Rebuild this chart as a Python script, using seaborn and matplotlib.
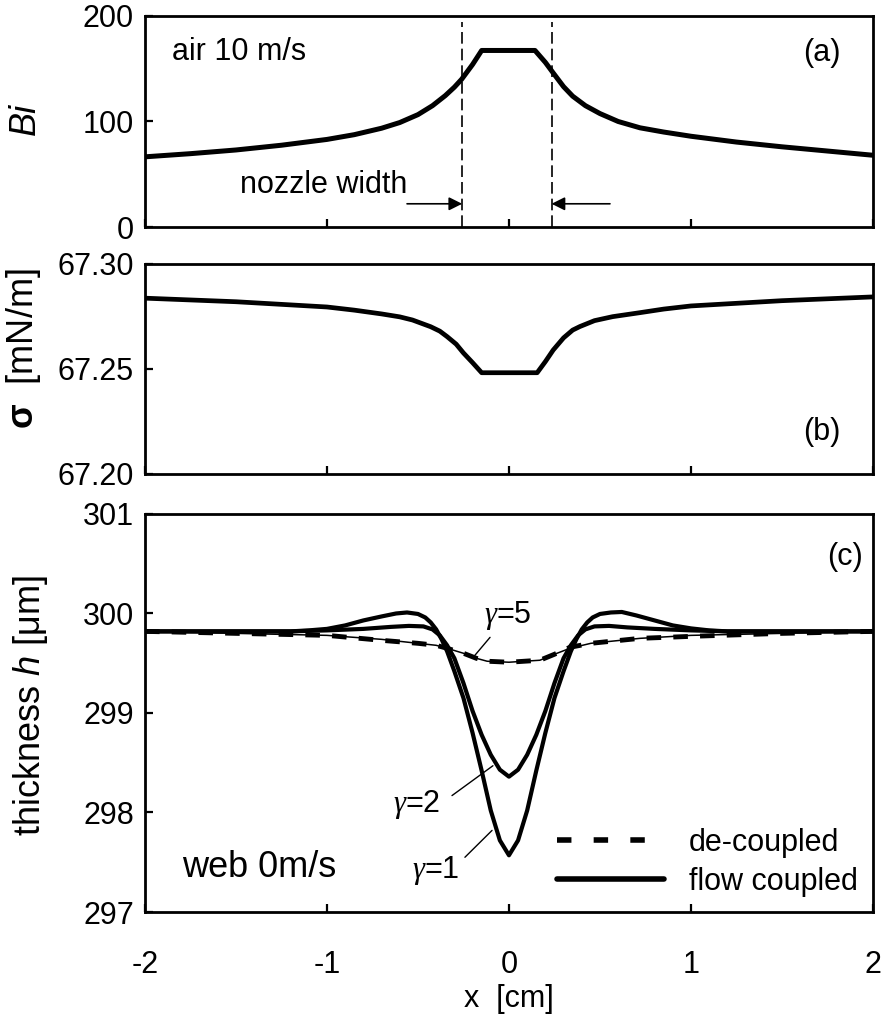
import numpy as np
import pandas as pd
import matplotlib
matplotlib.use('Agg')
import matplotlib.pyplot as plt
import seaborn as sns
from matplotlib.lines import Line2D
from matplotlib.ticker import FormatStrFormatter

# --- data ---
# (a) Biot number along x
bi_x = [-2.0, -1.75, -1.5, -1.25, -1.0, -0.85, -0.7, -0.6, -0.5, -0.42, -0.35, -0.3, -0.26, -0.2, -0.15,
        0.143, 0.2, 0.243, 0.3, 0.35, 0.42, 0.5, 0.6, 0.72, 0.85, 1.0, 1.25, 1.5, 1.75, 2.0]
bi_y = [66.5, 69.5, 73, 77.5, 83, 87.5, 93.6, 99, 106.5, 115, 124.5, 132.5, 140, 154, 167.3,
        167.3, 156, 146, 133, 124, 115, 107.5, 100, 94, 90, 86, 80.5, 76, 72, 68]
nozzle_edges = [-0.257, 0.234]

# (b) surface tension
sig_x = [-2.0, -1.5, -1.0, -0.85, -0.7, -0.6, -0.53, -0.43, -0.38, -0.34, -0.29, -0.25, -0.2, -0.15,
         0.155, 0.2, 0.243, 0.3, 0.35, 0.39, 0.47, 0.57, 0.72, 0.85, 1.0, 1.5, 2.0]
sig_y = [67.2837, 67.2820, 67.2795, 67.2780, 67.2762, 67.2748, 67.2733, 67.2701, 67.2680, 67.2654,
         67.2618, 67.2576, 67.2530, 67.2482,
         67.2482, 67.2535, 67.2590, 67.2648, 67.2685, 67.2702, 67.2730, 67.2749, 67.2768, 67.2785,
         67.2800, 67.2825, 67.2843]

# (c) film thickness
dec_x = [-2.0, -1.5, -1.0, -0.7, -0.5, -0.4, -0.34, -0.25, -0.18, -0.12, 0.0,
         0.17, 0.25, 0.335, 0.45, 0.72, 1.0, 1.5, 2.0]
dec_h = [299.82, 299.80, 299.78, 299.73, 299.70, 299.68, 299.65, 299.60, 299.55, 299.52, 299.51,
         299.53, 299.59, 299.66, 299.70, 299.75, 299.77, 299.80, 299.82]
g5_h = [299.82, 299.80, 299.78, 299.74, 299.70, 299.68, 299.65, 299.60, 299.55, 299.52, 299.51,
        299.53, 299.59, 299.65, 299.70, 299.75, 299.78, 299.80, 299.82]

g1_x = [-2.0, -1.5, -1.2, -1.1, -1.0, -0.9, -0.8, -0.7, -0.62, -0.56, -0.5, -0.46, -0.43, -0.4,
        -0.37, -0.34, -0.3, -0.25, -0.2, -0.15, -0.1, -0.05, 0.0,
        0.05, 0.1, 0.15, 0.2, 0.25, 0.3, 0.34, 0.37, 0.4, 0.43, 0.46, 0.5, 0.56, 0.62,
        0.7, 0.8, 0.9, 1.0, 1.1, 1.2, 1.5, 2.0]
g1_h = [299.82, 299.82, 299.82, 299.83, 299.845, 299.88, 299.93, 299.97, 300.0, 300.01, 299.995,
        299.96, 299.91, 299.84, 299.74, 299.62, 299.42, 299.15, 298.80, 298.42, 298.02, 297.72, 297.57,
        297.72, 298.02, 298.42, 298.80, 299.15, 299.42, 299.62, 299.74, 299.84, 299.91, 299.96,
        299.995, 300.01, 300.015, 299.98, 299.93, 299.88, 299.85, 299.83, 299.82, 299.82, 299.82]

g2_x = [-2.0, -1.5, -1.2, -1.0, -0.8, -0.65, -0.55, -0.47, -0.42, -0.38, -0.34, -0.3, -0.25,
        -0.2, -0.15, -0.1, -0.05, 0.0,
        0.05, 0.1, 0.15, 0.2, 0.25, 0.3, 0.34, 0.38, 0.42, 0.47, 0.55, 0.65, 0.8, 1.0,
        1.2, 1.5, 2.0]
g2_h = [299.82, 299.82, 299.82, 299.83, 299.845, 299.865, 299.875, 299.87, 299.84, 299.78, 299.68,
        299.55, 299.30, 299.02, 298.78, 298.58, 298.43, 298.36,
        298.43, 298.58, 298.78, 299.02, 299.30, 299.55, 299.68, 299.78, 299.84, 299.87, 299.875,
        299.86, 299.845, 299.83, 299.82, 299.82, 299.82]

x_ticks = [-2, -1, 0, 1, 2]
legend_labels = ['de-coupled', 'flow coupled']

# --- style ---
sns.set_theme(style='ticks')
plt.rcParams['font.family'] = ['Liberation Sans', 'DejaVu Sans']
plt.rcParams['axes.unicode_minus'] = False
plt.rcParams['mathtext.fontset'] = 'custom'
plt.rcParams['mathtext.rm'] = 'Liberation Sans'
plt.rcParams['mathtext.it'] = 'Liberation Serif:italic'
plt.rcParams['mathtext.sf'] = 'Liberation Sans:italic'
plt.rcParams['mathtext.bf'] = 'Liberation Sans:bold'
plt.rcParams['axes.linewidth'] = 2.0
plt.rcParams['text.color'] = 'black'
plt.rcParams['axes.labelcolor'] = 'black'
plt.rcParams['xtick.color'] = 'black'
plt.rcParams['ytick.color'] = 'black'

FS = 22
LFS = 26  # y-label size

fig = plt.figure(figsize=(8.85, 10.23), dpi=100)
ax_a = fig.add_axes([0.1638, 0.7781, 0.8226, 0.2063])
ax_b = fig.add_axes([0.1638, 0.5367, 0.8226, 0.2053])
ax_c = fig.add_axes([0.1638, 0.1085, 0.8226, 0.3891])

for ax in (ax_a, ax_b, ax_c):
    ax.set_xlim(-2, 2)
    ax.set_xticks(x_ticks)
    ax.tick_params(direction='in', length=6, width=1.6, labelsize=FS,
                   colors='black', labelcolor='black', top=False, right=False)
    ax.tick_params(axis='y', pad=8)
    for s in ax.spines.values():
        s.set_color('black')
        s.set_linewidth(2.0)

# --- (a) ---
sns.lineplot(x=bi_x, y=bi_y, ax=ax_a, color='black', lw=3.6,
             estimator=None, sort=False)
for xe in nozzle_edges:
    ax_a.axvline(xe, ymin=0, ymax=0.97, color='black', lw=1.2,
                 linestyle=(0, (7, 3)))
ax_a.set_ylim(0, 200)
ax_a.set_yticks([0, 100, 200])
ax_a.set_xticklabels([])
ax_a.set_ylabel('Bi', fontsize=LFS, fontstyle='italic')
ax_a.yaxis.set_label_coords(-0.14, 0.514)
ax_a.text(-1.85, 166, 'air 10 m/s', fontsize=FS, ha='left', va='center')
ax_a.text(1.72, 165, '(a)', fontsize=FS, ha='center', va='center')
ax_a.text(-1.478, 40, 'nozzle width', fontsize=FS, ha='left', va='center')
arrow_kw = dict(arrowstyle='-|>', lw=1.2, color='black', mutation_scale=20,
                shrinkA=0, shrinkB=0)
ax_a.annotate('', xy=(nozzle_edges[0], 22), xytext=(-0.56, 22), arrowprops=arrow_kw)
ax_a.annotate('', xy=(nozzle_edges[1], 22), xytext=(0.555, 22), arrowprops=arrow_kw)

# --- (b) ---
sns.lineplot(x=sig_x, y=sig_y, ax=ax_b, color='black', lw=3.4,
             estimator=None, sort=False)
ax_b.set_ylim(67.20, 67.30)
ax_b.set_yticks([67.20, 67.25, 67.30])
ax_b.yaxis.set_major_formatter(FormatStrFormatter('%.2f'))
ax_b.set_xticklabels([])
ax_b.set_ylabel(r'$\mathbf{\sigma}$  [mN/m]', fontsize=LFS)
ax_b.yaxis.set_label_coords(-0.14, 0.595)
ax_b.text(1.72, 67.22, '(b)', fontsize=FS, ha='center', va='center')

# --- (c) ---
dash = (0, (3, 2.5))
sns.lineplot(x=dec_x, y=g5_h, ax=ax_c, color='black', lw=1.1,
             estimator=None, sort=False)
sns.lineplot(x=dec_x, y=dec_h, ax=ax_c, color='black', lw=3.5, linestyle=dash,
             estimator=None, sort=False)
sns.lineplot(x=g2_x, y=g2_h, ax=ax_c, color='black', lw=3.0,
             estimator=None, sort=False)
sns.lineplot(x=g1_x, y=g1_h, ax=ax_c, color='black', lw=3.0,
             estimator=None, sort=False)
ax_c.set_ylim(297, 301)
ax_c.set_yticks([297, 298, 299, 300, 301])
ax_c.tick_params(axis='x', pad=27)
ax_c.set_ylabel(r'thickness $\mathsf{h}$ [μm]', fontsize=LFS)
ax_c.yaxis.set_label_coords(-0.13, 0.52)
ax_c.set_xlabel('x  [cm]', fontsize=FS)
ax_c.xaxis.set_label_coords(0.5, -0.18)
ax_c.text(1.846, 300.57, '(c)', fontsize=FS, ha='center', va='center')
ax_c.text(-1.797, 297.45, 'web 0m/s', fontsize=FS + 4, ha='left', va='center')

gam_kw = dict(fontsize=FS, ha='center', va='center')
ax_c.text(-0.005, 299.98, r'$\gamma$=5', **gam_kw)
ax_c.plot([-0.104, -0.187], [299.76, 299.58], color='black', lw=1.0)
ax_c.text(-0.51, 298.08, r'$\gamma$=2', **gam_kw)
ax_c.plot([-0.313, -0.088], [298.17, 298.47], color='black', lw=1.0)
ax_c.text(-0.40, 297.42, r'$\gamma$=1', **gam_kw)
ax_c.plot([-0.242, -0.093], [297.55, 297.82], color='black', lw=1.0)

# legend proxies: wider dash gaps, as in the original key
handles = [Line2D([], [], color='black', lw=4.0, linestyle=(0, (2.6, 4.0))),
           Line2D([], [], color='black', lw=4.0)]
ax_c.legend(handles, legend_labels, loc='lower right', frameon=False, fontsize=FS,
            handlelength=3.5, handletextpad=0.8, labelspacing=0.3,
            borderaxespad=0.1)

fig.savefig('out.png', dpi=100)
